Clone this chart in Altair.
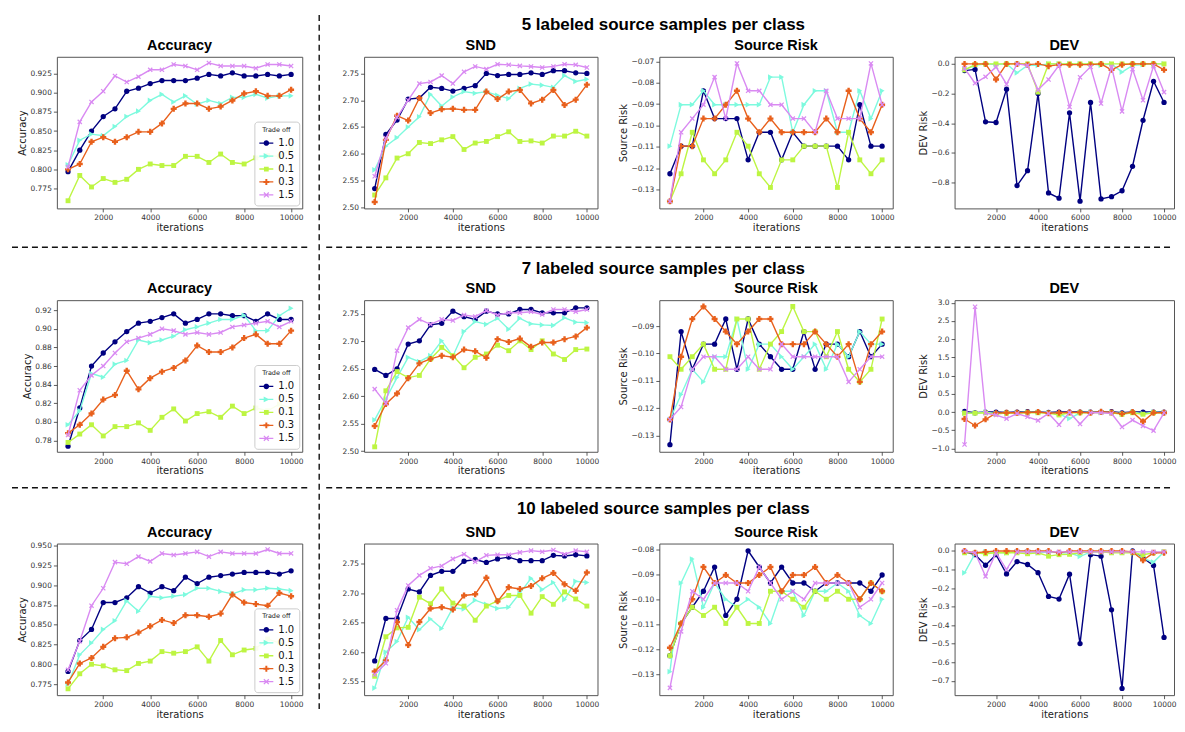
import math
import altair as alt
import pandas as pd

# ---------------- data ----------------
ITERATIONS = [500, 1000, 1500, 2000, 2500, 3000, 3500, 4000, 4500, 5000,
              5500, 6000, 6500, 7000, 7500, 8000, 8500, 9000, 9500, 10000]
SERIES = ["1.0", "0.5", "0.1", "0.3", "1.5"]
COLORS = ["#000080", "#7dfade", "#bdf542", "#e8601c", "#d98af2"]
X_TICKS = [2000, 4000, 6000, 8000, 10000]
ROW_TITLES = ["5 labeled source samples per class",
              "7 labeled source samples per class",
              "10 labeled source samples per class"]

acc_5 = {
    "1.0": [0.797, 0.825, 0.850, 0.869, 0.879, 0.902, 0.906, 0.912, 0.916, 0.916, 0.916, 0.919, 0.924, 0.922, 0.926, 0.922, 0.922, 0.924, 0.922, 0.924],
    "0.5": [0.806, 0.838, 0.846, 0.844, 0.856, 0.869, 0.876, 0.890, 0.898, 0.888, 0.896, 0.885, 0.890, 0.886, 0.894, 0.894, 0.898, 0.893, 0.896, 0.896],
    "0.1": [0.759, 0.792, 0.777, 0.788, 0.783, 0.787, 0.800, 0.807, 0.805, 0.805, 0.817, 0.817, 0.809, 0.820, 0.809, 0.807, 0.815, 0.818, 0.817, 0.827],
    "0.3": [0.800, 0.807, 0.836, 0.842, 0.836, 0.842, 0.849, 0.849, 0.860, 0.879, 0.886, 0.886, 0.879, 0.882, 0.890, 0.899, 0.902, 0.896, 0.896, 0.904],
    "1.5": [0.803, 0.862, 0.888, 0.902, 0.922, 0.914, 0.921, 0.930, 0.930, 0.937, 0.935, 0.930, 0.939, 0.935, 0.935, 0.935, 0.932, 0.937, 0.937, 0.935],
}
snd_5 = {
    "1.0": [2.535, 2.636, 2.663, 2.702, 2.704, 2.724, 2.722, 2.717, 2.722, 2.727, 2.750, 2.746, 2.748, 2.748, 2.751, 2.748, 2.755, 2.755, 2.751, 2.750],
    "0.5": [2.570, 2.614, 2.630, 2.650, 2.669, 2.711, 2.689, 2.706, 2.716, 2.713, 2.716, 2.709, 2.703, 2.722, 2.730, 2.728, 2.724, 2.746, 2.735, 2.739],
    "0.1": [2.523, 2.555, 2.592, 2.600, 2.621, 2.619, 2.626, 2.632, 2.608, 2.620, 2.623, 2.632, 2.641, 2.623, 2.624, 2.620, 2.633, 2.633, 2.642, 2.633],
    "0.3": [2.510, 2.626, 2.671, 2.662, 2.704, 2.676, 2.683, 2.684, 2.682, 2.682, 2.716, 2.702, 2.716, 2.719, 2.694, 2.701, 2.719, 2.691, 2.701, 2.729],
    "1.5": [2.558, 2.629, 2.668, 2.700, 2.731, 2.734, 2.746, 2.731, 2.753, 2.763, 2.758, 2.767, 2.766, 2.764, 2.763, 2.761, 2.763, 2.767, 2.766, 2.761],
}
sr_5 = {
    "1.0": [-0.1226, -0.1097, -0.1097, -0.0838, -0.0968, -0.0968, -0.0968, -0.1161, -0.1032, -0.1032, -0.1161, -0.1032, -0.1097, -0.1097, -0.1097, -0.1097, -0.1161, -0.0903, -0.1097, -0.1097],
    "0.5": [-0.1097, -0.0903, -0.0903, -0.0838, -0.0903, -0.0903, -0.0903, -0.0903, -0.0903, -0.0774, -0.0774, -0.1032, -0.0903, -0.0838, -0.0838, -0.1032, -0.1032, -0.0838, -0.0968, -0.0838],
    "0.1": [-0.1355, -0.1226, -0.1032, -0.1161, -0.1226, -0.1161, -0.1032, -0.1097, -0.1226, -0.1290, -0.1161, -0.1161, -0.1097, -0.1097, -0.1097, -0.1290, -0.1032, -0.1161, -0.1226, -0.1161],
    "0.3": [-0.1355, -0.1097, -0.1097, -0.0968, -0.0968, -0.0903, -0.0838, -0.0968, -0.1032, -0.0968, -0.1032, -0.1032, -0.1032, -0.1032, -0.0968, -0.1032, -0.0838, -0.0968, -0.1032, -0.0903],
    "1.5": [-0.1355, -0.1032, -0.0968, -0.0903, -0.0774, -0.0968, -0.0710, -0.0838, -0.0838, -0.0903, -0.0903, -0.0968, -0.0968, -0.1032, -0.0838, -0.0968, -0.0968, -0.0968, -0.0710, -0.0903],
}
dev_5 = {
    "1.0": [-0.045, -0.037, -0.39, -0.395, -0.17, -0.82, -0.72, -0.20, -0.87, -0.905, -0.33, -0.925, -0.26, -0.91, -0.895, -0.855, -0.69, -0.38, -0.117, -0.26],
    "0.5": [-0.04, -0.01, 0.0, -0.005, 0.0, -0.06, -0.01, -0.01, 0.0, 0.0, 0.0, 0.0, 0.0, -0.01, 0.0, -0.055, -0.01, -0.005, 0.0, 0.0],
    "0.1": [-0.04, -0.005, 0.0, 0.0, 0.0, 0.0, 0.0, -0.19, 0.0, 0.0, 0.0, 0.0, 0.0, 0.0, 0.0, 0.0, 0.0, 0.0, 0.0, 0.0],
    "0.3": [0.0, 0.0, 0.0, -0.105, 0.0, 0.0, -0.005, 0.0, -0.015, -0.005, -0.005, -0.005, -0.005, 0.0, -0.04, -0.005, 0.0, 0.0, 0.0, -0.04],
    "1.5": [-0.03, -0.13, -0.087, -0.02, -0.137, 0.0, -0.01, -0.175, -0.105, -0.01, -0.29, -0.09, -0.02, -0.267, -0.02, -0.32, -0.035, -0.245, -0.015, -0.19],
}
acc_7 = {
    "1.0": [0.774, 0.815, 0.860, 0.874, 0.886, 0.897, 0.906, 0.908, 0.912, 0.916, 0.906, 0.910, 0.916, 0.916, 0.914, 0.914, 0.908, 0.916, 0.910, 0.910],
    "0.5": [0.797, 0.812, 0.852, 0.848, 0.862, 0.866, 0.888, 0.885, 0.888, 0.892, 0.899, 0.902, 0.906, 0.910, 0.910, 0.9145, 0.898, 0.898, 0.914, 0.922],
    "0.1": [0.778, 0.787, 0.797, 0.785, 0.795, 0.795, 0.799, 0.791, 0.805, 0.814, 0.801, 0.809, 0.811, 0.805, 0.817, 0.809, 0.815, 0.812, 0.819, 0.815],
    "0.3": [0.788, 0.797, 0.809, 0.824, 0.829, 0.855, 0.835, 0.847, 0.854, 0.858, 0.866, 0.882, 0.875, 0.875, 0.880, 0.890, 0.894, 0.884, 0.884, 0.898],
    "1.5": [0.786, 0.834, 0.850, 0.860, 0.874, 0.886, 0.890, 0.894, 0.900, 0.898, 0.894, 0.896, 0.894, 0.896, 0.902, 0.904, 0.906, 0.908, 0.902, 0.908],
}
snd_7 = {
    "1.0": [2.649, 2.638, 2.650, 2.695, 2.701, 2.730, 2.733, 2.755, 2.745, 2.740, 2.755, 2.750, 2.750, 2.758, 2.758, 2.752, 2.752, 2.752, 2.761, 2.761],
    "0.5": [2.557, 2.595, 2.634, 2.671, 2.663, 2.674, 2.701, 2.673, 2.718, 2.736, 2.731, 2.742, 2.722, 2.742, 2.732, 2.730, 2.729, 2.743, 2.735, 2.734],
    "0.1": [2.508, 2.610, 2.645, 2.634, 2.638, 2.668, 2.689, 2.674, 2.652, 2.671, 2.677, 2.693, 2.683, 2.701, 2.685, 2.701, 2.677, 2.667, 2.685, 2.686],
    "0.3": [2.546, 2.586, 2.605, 2.633, 2.660, 2.668, 2.674, 2.671, 2.685, 2.682, 2.670, 2.704, 2.699, 2.705, 2.690, 2.698, 2.698, 2.704, 2.709, 2.725],
    "1.5": [2.613, 2.587, 2.683, 2.725, 2.740, 2.731, 2.740, 2.738, 2.748, 2.745, 2.756, 2.748, 2.752, 2.752, 2.754, 2.749, 2.758, 2.758, 2.754, 2.758],
}
sr_7 = {
    "1.0": [-0.1334, -0.0920, -0.1058, -0.0966, -0.0966, -0.0874, -0.1058, -0.0874, -0.0966, -0.1012, -0.1058, -0.1058, -0.0920, -0.1058, -0.0966, -0.0966, -0.1012, -0.0920, -0.1012, -0.0966],
    "0.5": [-0.1242, -0.1150, -0.1058, -0.1104, -0.1012, -0.1012, -0.0874, -0.1058, -0.0966, -0.0966, -0.1012, -0.1058, -0.1012, -0.0966, -0.1058, -0.0966, -0.1012, -0.0920, -0.0966, -0.0966],
    "0.1": [-0.1012, -0.1058, -0.1012, -0.0966, -0.1058, -0.1058, -0.0874, -0.0874, -0.1058, -0.0966, -0.0920, -0.0828, -0.0920, -0.0920, -0.1012, -0.0920, -0.1058, -0.1104, -0.1058, -0.0874],
    "0.3": [-0.1242, -0.1012, -0.0874, -0.0828, -0.0874, -0.0920, -0.0966, -0.0920, -0.0874, -0.0874, -0.0966, -0.0966, -0.0966, -0.0920, -0.0966, -0.1012, -0.0966, -0.1104, -0.0966, -0.0920],
    "1.5": [-0.1242, -0.1196, -0.1058, -0.1012, -0.1012, -0.1058, -0.1058, -0.1012, -0.1058, -0.1058, -0.0966, -0.1012, -0.1012, -0.1012, -0.1012, -0.1012, -0.1104, -0.1058, -0.1012, -0.1012],
}
dev_7 = {
    "1.0": [0.02, -0.02, 0.0, 0.0, -0.01, 0.0, 0.01, 0.0, -0.01, 0.0, 0.0, 0.0, 0.0, 0.0, 0.01, -0.02, 0.0, 0.0, 0.0, 0.0],
    "0.5": [-0.03, -0.03, 0.0, -0.05, -0.03, -0.02, 0.0, -0.01, -0.02, -0.05, -0.18, -0.02, 0.0, -0.02, 0.0, -0.05, 0.0, -0.05, 0.0, -0.02],
    "0.1": [-0.03, -0.03, -0.02, -0.05, -0.03, -0.03, -0.02, -0.02, -0.03, -0.08, -0.02, -0.02, -0.02, -0.01, -0.02, -0.06, -0.02, -0.06, -0.02, -0.02],
    "0.3": [-0.19, -0.37, -0.20, -0.03, -0.02, -0.02, -0.01, 0.0, -0.03, -0.02, -0.01, -0.01, -0.02, 0.01, -0.01, -0.05, 0.0, -0.26, -0.02, -0.02],
    "1.5": [-0.89, 2.89, -0.03, -0.08, -0.18, -0.04, -0.13, -0.23, -0.04, -0.35, -0.01, -0.33, -0.02, -0.02, -0.04, -0.41, -0.22, -0.38, -0.51, -0.02],
}
acc_10 = {
    "1.0": [0.791, 0.830, 0.844, 0.878, 0.878, 0.884, 0.898, 0.890, 0.898, 0.893, 0.910, 0.902, 0.910, 0.912, 0.914, 0.916, 0.916, 0.916, 0.914, 0.918],
    "0.5": [0.775, 0.812, 0.827, 0.844, 0.855, 0.880, 0.867, 0.886, 0.884, 0.886, 0.888, 0.896, 0.896, 0.892, 0.889, 0.894, 0.894, 0.896, 0.895, 0.893],
    "0.1": [0.769, 0.788, 0.800, 0.798, 0.793, 0.792, 0.801, 0.804, 0.816, 0.814, 0.816, 0.822, 0.804, 0.830, 0.812, 0.818, 0.820, 0.832, 0.827, 0.822],
    "0.3": [0.777, 0.801, 0.808, 0.822, 0.833, 0.834, 0.840, 0.848, 0.856, 0.852, 0.862, 0.862, 0.860, 0.864, 0.888, 0.878, 0.876, 0.874, 0.890, 0.886],
    "1.5": [0.793, 0.829, 0.874, 0.896, 0.929, 0.927, 0.936, 0.930, 0.940, 0.938, 0.940, 0.942, 0.936, 0.942, 0.940, 0.940, 0.940, 0.945, 0.940, 0.940],
}
snd_10 = {
    "1.0": [2.585, 2.657, 2.657, 2.707, 2.702, 2.730, 2.737, 2.737, 2.754, 2.757, 2.752, 2.758, 2.761, 2.755, 2.755, 2.755, 2.764, 2.763, 2.765, 2.763],
    "0.5": [2.539, 2.600, 2.618, 2.659, 2.638, 2.656, 2.640, 2.675, 2.673, 2.688, 2.681, 2.674, 2.676, 2.700, 2.725, 2.706, 2.718, 2.689, 2.720, 2.718],
    "0.1": [2.559, 2.626, 2.641, 2.642, 2.693, 2.682, 2.707, 2.683, 2.678, 2.654, 2.678, 2.687, 2.696, 2.696, 2.666, 2.694, 2.681, 2.702, 2.690, 2.678],
    "0.3": [2.567, 2.586, 2.651, 2.612, 2.651, 2.674, 2.676, 2.672, 2.696, 2.698, 2.726, 2.686, 2.710, 2.707, 2.712, 2.725, 2.734, 2.715, 2.704, 2.735],
    "1.5": [2.562, 2.581, 2.671, 2.713, 2.730, 2.742, 2.746, 2.758, 2.766, 2.753, 2.764, 2.765, 2.765, 2.769, 2.772, 2.770, 2.773, 2.766, 2.772, 2.770],
}
sr_10 = {
    "1.0": [-0.1226, -0.1097, -0.1032, -0.0968, -0.0871, -0.1065, -0.1000, -0.0806, -0.0871, -0.0935, -0.0871, -0.0935, -0.0935, -0.0968, -0.0935, -0.0935, -0.0935, -0.0935, -0.0968, -0.0903],
    "0.5": [-0.1290, -0.0935, -0.0839, -0.1032, -0.0935, -0.1000, -0.1032, -0.1000, -0.1032, -0.1097, -0.0968, -0.0968, -0.1065, -0.0968, -0.0968, -0.0935, -0.0968, -0.1065, -0.1097, -0.1000],
    "0.1": [-0.1226, -0.1097, -0.1032, -0.1065, -0.1032, -0.1097, -0.1032, -0.1097, -0.1097, -0.0968, -0.0968, -0.1000, -0.1032, -0.0968, -0.1000, -0.0968, -0.1000, -0.1000, -0.0935, -0.0968],
    "0.3": [-0.1194, -0.1097, -0.1000, -0.0871, -0.0935, -0.0903, -0.0935, -0.0935, -0.0903, -0.0871, -0.0968, -0.0903, -0.0903, -0.0871, -0.0935, -0.0903, -0.0935, -0.1000, -0.0935, -0.0968],
    "1.5": [-0.1355, -0.1129, -0.0968, -0.1000, -0.0935, -0.0935, -0.0935, -0.0968, -0.0871, -0.0935, -0.1000, -0.0968, -0.1000, -0.0935, -0.0935, -0.0935, -0.0935, -0.1032, -0.1000, -0.0935],
}
dev_10 = {
    "1.0": [-0.004, -0.02, -0.077, -0.02, -0.124, -0.057, -0.073, -0.117, -0.245, -0.259, -0.125, -0.499, -0.02, -0.028, -0.317, -0.741, 0.0, -0.038, -0.078, -0.466],
    "0.5": [-0.118, -0.015, -0.005, -0.01, -0.01, -0.005, -0.005, -0.01, -0.005, -0.01, -0.01, -0.03, -0.005, -0.005, -0.005, -0.005, -0.005, -0.04, -0.06, -0.005],
    "0.1": [-0.01, -0.01, -0.015, -0.01, -0.01, -0.01, -0.015, -0.01, -0.028, -0.02, -0.018, -0.01, -0.005, -0.005, -0.01, -0.01, -0.01, -0.02, -0.01, -0.005],
    "0.3": [0.0, -0.01, -0.005, 0.0, 0.0, 0.0, 0.0, 0.0, 0.0, -0.01, 0.0, 0.0, 0.0, 0.0, 0.0, 0.0, -0.005, -0.05, -0.01, -0.01],
    "1.5": [0.0, -0.01, -0.137, -0.01, -0.1, -0.005, -0.005, -0.005, -0.005, -0.005, -0.005, -0.005, -0.005, -0.005, -0.005, -0.005, -0.005, -0.005, -0.005, -0.005],
}

# ---------------- marker shapes ----------------
def rect(x0, x1, y0, y1):
    return [(x0, y0), (x1, y0), (x1, y1), (x0, y1)]

def rot(pts, deg):
    a = math.radians(deg)
    c, s = math.cos(a), math.sin(a)
    return [(x * c - y * s, x * s + y * c) for x, y in pts]

def circ(r, n=20):
    return [(r * math.cos(2 * math.pi * k / n), r * math.sin(2 * math.pi * k / n)) for k in range(n)]

def path(*polys):
    out = []
    for p in polys:
        area = sum(p[i][0] * p[(i + 1) % len(p)][1] - p[(i + 1) % len(p)][0] * p[i][1] for i in range(len(p)))
        if area < 0:
            p = p[::-1]
        out.append("M" + "L".join(f"{x:.3f},{y:.3f}" for x, y in p) + "Z")
    return "".join(out)

X_SHAPE = path(rot(rect(-1.05, 1.05, -0.22, 0.22), 45), rot(rect(-1.05, 1.05, -0.22, 0.22), -45))
PLOT_SHAPES = ["circle", "triangle-right", "square", "cross", X_SHAPE]
PLOT_SIZES = [28, 32, 24, 36, 32]

LEG_LINE = rect(-1, 1, -0.09, 0.09)
LEG_SHAPES = [
    path(LEG_LINE, circ(0.4)),
    path(LEG_LINE, [(-0.38, -0.42), (0.45, 0.0), (-0.38, 0.42)]),
    path(LEG_LINE, rect(-0.34, 0.34, -0.34, 0.34)),
    path(LEG_LINE, rect(-0.42, 0.42, -0.14, 0.14), rect(-0.14, 0.14, -0.42, 0.42)),
    path(LEG_LINE, rot(rect(-0.5, 0.5, -0.09, 0.09), 45), rot(rect(-0.5, 0.5, -0.09, 0.09), -45)),
]

# ---------------- layout ----------------
H = 152
W_ACC, W_SND, W_SR, W_DEV = 246, 234, 234, 220
TITLE_FONT = "Liberation Sans"
TICK_FONT = "DejaVu Sans"


def one():
    return alt.Chart(pd.DataFrame({"k": [0]}))


def dashed_h(x1, x2, y):
    return one().mark_rule(color="#111", strokeWidth=1.4, strokeDash=[6, 4]).encode(
        x=alt.value(x1), x2=alt.value(x2), y=alt.value(y))


def dashed_v(x, y1, y2):
    return one().mark_rule(color="#111", strokeWidth=1.4, strokeDash=[6, 4]).encode(
        x=alt.value(x), y=alt.value(y1), y2=alt.value(y2))


def label_text(text, x, y, size, baseline):
    return alt.Chart(pd.DataFrame({"t": [text]})).mark_text(
        font=TITLE_FONT, fontSize=size, fontWeight="bold", color="#000",
        align="center", baseline=baseline).encode(
        text="t:N", x=alt.value(x), y=alt.value(y))


def panel(data, title, ytitle, ydom, yticks, yfmt, width, legend=False, extras=()):
    X = alt.X("it:Q", scale=alt.Scale(domain=[25, 10475], nice=False, zero=False),
              axis=alt.Axis(values=X_TICKS, format="d", title="iterations", titlePadding=1))
    Y = alt.Y("v:Q", scale=alt.Scale(domain=ydom, nice=False, zero=False),
              axis=alt.Axis(values=yticks, format=yfmt, title=ytitle, titlePadding=2))
    layers = []
    for s, col, shp, sz in zip(SERIES, COLORS, PLOT_SHAPES, PLOT_SIZES):
        df = pd.DataFrame({"it": ITERATIONS, "v": data[s]})
        base = alt.Chart(df)
        layers.append(base.mark_line(color=col, strokeWidth=1.4).encode(x=X, y=Y))
        layers.append(base.mark_point(shape=shp, filled=True, color=col, size=sz,
                                      opacity=1, strokeWidth=0).encode(x=X, y=Y))
    if legend:
        long = pd.DataFrame([{"it": it, "v": v, "Trade off": s}
                             for s in SERIES for it, v in zip(ITERATIONS, data[s])])
        leg = alt.Legend(title="Trade off", orient="bottom-right", offset=3, padding=5,
                         fillColor="rgba(255,255,255,0.9)", strokeColor="#cccccc",
                         cornerRadius=3, titleFont=TICK_FONT, titleFontSize=6.5,
                         titleFontWeight="normal", titleColor="#222", titleAnchor="middle",
                         titlePadding=3, labelFont=TICK_FONT, labelFontSize=10,
                         labelColor="#111", symbolSize=196, symbolStrokeWidth=0,
                         symbolOpacity=1, rowPadding=1, labelOffset=5)
        layers.append(alt.Chart(long).mark_point(filled=True, opacity=0).encode(
            x=X, y=Y,
            color=alt.Color("Trade off:N", scale=alt.Scale(domain=SERIES, range=COLORS), legend=leg),
            shape=alt.Shape("Trade off:N", scale=alt.Scale(domain=SERIES, range=LEG_SHAPES), legend=leg),
        ))
    layers.append(label_text(title, width / 2, -7, 14.5, "alphabetic"))
    layers.extend(extras)
    return alt.layer(*layers).properties(width=width, height=H)


ACC_TICKS_A = [0.775, 0.8, 0.825, 0.85, 0.875, 0.9, 0.925]
SND_TICKS = [2.5, 2.55, 2.6, 2.65, 2.7, 2.75]

panels = [
    # row 1
    panel(acc_5, "Accuracy", "Accuracy", [0.749, 0.947], ACC_TICKS_A, ".3f", W_ACC, legend=True,
          extras=[dashed_v(263, -42, 2 * (H + 92) + H + 14)]),
    panel(snd_5, "SND", "", [2.498, 2.781], SND_TICKS, ".2f", W_SND,
          extras=[label_text(ROW_TITLES[0], 300, -32, 17, "middle")]),
    panel(sr_5, "Source Risk", "Source Risk", [-0.1388, -0.0679],
          [-0.13, -0.12, -0.11, -0.10, -0.09, -0.08, -0.07], ".2f", W_SR),
    panel(dev_5, "DEV", "DEV Risk", [-0.974, 0.048], [-0.8, -0.6, -0.4, -0.2, 0.0], ".1f", W_DEV),
    # row 2
    panel(acc_7, "Accuracy", "Accuracy", [0.768, 0.9307],
          [0.78, 0.80, 0.82, 0.84, 0.86, 0.88, 0.90, 0.92], ".2f", W_ACC, legend=True,
          extras=[dashed_h(-45, 255, -53)]),
    panel(snd_7, "SND", "", [2.499, 2.775], SND_TICKS, ".2f", W_SND,
          extras=[label_text(ROW_TITLES[1], 300, -31, 17, "middle"), dashed_h(-38, 810, -53)]),
    panel(sr_7, "Source Risk", "Source Risk", [-0.136, -0.0805],
          [-0.13, -0.12, -0.11, -0.10, -0.09], ".2f", W_SR),
    panel(dev_7, "DEV", "DEV Risk", [-1.09, 3.07],
          [-1.0, -0.5, 0.0, 0.5, 1.0, 1.5, 2.0, 2.5, 3.0], ".1f", W_DEV),
    # row 3
    panel(acc_10, "Accuracy", "Accuracy", [0.761, 0.9525],
          [0.775, 0.8, 0.825, 0.85, 0.875, 0.9, 0.925, 0.95], ".3f", W_ACC, legend=True,
          extras=[dashed_h(-45, 255, -56)]),
    panel(snd_10, "SND", "", [2.527, 2.784], [2.55, 2.6, 2.65, 2.7, 2.75], ".2f", W_SND,
          extras=[label_text(ROW_TITLES[2], 300, -35, 17, "middle"), dashed_h(-38, 810, -56)]),
    panel(sr_10, "Source Risk", "Source Risk", [-0.1384, -0.0777],
          [-0.13, -0.12, -0.11, -0.10, -0.09, -0.08], ".2f", W_SR),
    panel(dev_10, "DEV", "DEV Risk", [-0.777, 0.04],
          [-0.7, -0.6, -0.5, -0.4, -0.3, -0.2, -0.1, 0.0], ".1f", W_DEV),
]

chart = alt.concat(
    *panels, columns=4, spacing={"row": 92, "column": 62}, bounds="flush", align="each"
).resolve_scale(
    color="independent", shape="independent"
).resolve_legend(
    color="independent", shape="independent"
).properties(
    padding={"left": 2, "top": 4, "right": 0, "bottom": 0}
).configure_view(
    stroke="#555", strokeWidth=1
).configure_axis(
    grid=False, domain=False, ticks=True, tickSize=3.5, tickWidth=0.8, tickColor="#333",
    labelFont=TICK_FONT, labelFontSize=7.5, labelColor="#333", labelPadding=2,
    labelFlush=False, labelOverlap=False,
    titleFont=TICK_FONT, titleFontSize=10, titleFontWeight="normal", titleColor="#222",
)

chart.save("out.html", embed_options={"renderer": "svg", "actions": False})
